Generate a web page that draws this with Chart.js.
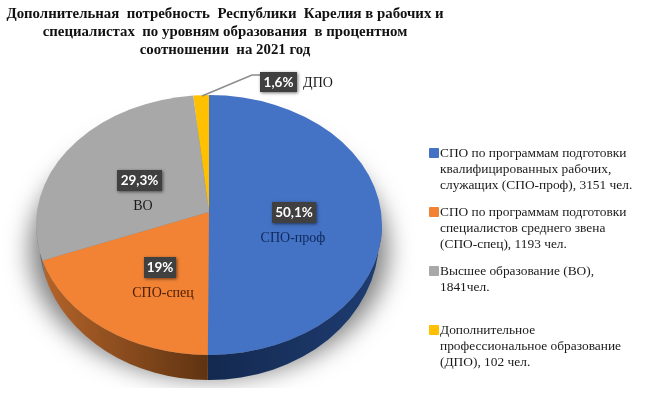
<!DOCTYPE html>
<html lang="ru">
<head>
<meta charset="utf-8">
<title>Дополнительная потребность</title>
<script src="https://cdn.jsdelivr.net/npm/chart.js@4"></script>
<style>
  html, body { margin: 0; background: #fff; }
  #wrap { position: relative; width: 645px; height: 394px; overflow: hidden; }
  #legend div { position: absolute; left: 440px; font: 13.4px/15.8px "Liberation Serif", serif; color: #1a1a1a; white-space: nowrap; }
  #legend i { position: absolute; left: -11px; top: 3px; width: 10px; height: 10px; border-radius: 1px; }
</style>
</head>
<body>
<div id="wrap">
  <canvas id="chart" width="645" height="394"></canvas>
  <div id="legend"></div>
</div>
<script>
const titleLines = [
  'Дополнительная  потребность  Республики  Карелия в рабочих и',
  'специалистах  по уровням образования  в процентном',
  'соотношении  на 2021 год'
];
const categories = ['СПО-проф', 'СПО-спец', 'ВО', 'ДПО'];
const shares = [50.1, 19, 29.3, 1.6];
const shareLabels = ['50,1%', '19%', '29,3%', '1,6%'];
const legendTexts = [
  'СПО по программам подготовки<br>квалифицированных рабочих,<br>служащих (СПО-проф), 3151 чел.',
  'СПО по программам подготовки<br>специалистов среднего звена<br>(СПО-спец), 1193 чел.',
  'Высшее образование (ВО),<br>1841чел.',
  'Дополнительное<br>профессиональное образование<br>(ДПО), 102 чел.'
];

const colors = ['#4472C4', '#F28335', '#A8A8A8', '#FFC000'];
const nameColors = ['#0f2a5c', '#4a1c04', '#1a1a1a', '#1a1a1a'];
const legendTops = [145, 204, 263, 322];
// стенка: цвет слева и справа
const wallColors = [['#13294f', '#1f3d73'], ['#b4642a', '#5f3311'], ['#7d7d7d', '#6a6a6a'], ['#b08600', '#b08600']];

// геометрия псевдо-3D круга
const pie = { cx: 209, cy: 225, rx: 173, ry: 130, wallRx: 170, wallCy: 239, wallRy: 141, tilt: -0.1 };
// плашка с процентом и подпись-название
const boxes = [
  { x: 272, y: 202, w: 44, h: 21, nameX: 293, nameY: 238 },
  { x: 144, y: 257, w: 32, h: 21, nameX: 163, nameY: 293 },
  { x: 117, y: 170, w: 45, h: 21, nameX: 143, nameY: 206 },
  { x: 260, y: 72, w: 37, h: 20, nameX: 318, nameY: 83 }
];
const leader = [[202, 96], [252, 75], [260, 75]];

// угол дуги -> параметр эллипса с учётом перспективы (центр смещён вверх)
function warp(angle) {
  const u = Math.cos(angle), v = Math.sin(angle), c = pie.tilt;
  const d = 1 + c * v;
  return Math.atan2((v + c) / d, u * Math.sqrt(1 - c * c) / d);
}

const pie3d = {
  id: 'pie3d',
  beforeDatasetDraw(chart) {
    const ctx = chart.ctx;
    const arcs = chart.getDatasetMeta(0).data;
    const { cx, cy, rx, ry, wallRx, wallCy, wallRy } = pie;

    // тень под кругом: сам эллипс за холстом, видна только тень
    ctx.save();
    ctx.beginPath();
    ctx.rect(0, 0, 645, 388);
    ctx.clip();
    ctx.shadowColor = 'rgba(0,0,0,0.5)';
    ctx.shadowBlur = 24;
    ctx.shadowOffsetX = 1000;
    ctx.fillStyle = '#000';
    ctx.beginPath();
    ctx.ellipse(cx - 1000, 250, rx + 6, 128, 0, 0, Math.PI * 2);
    ctx.fill();
    ctx.restore();

    // боковая стенка, только нижняя половина
    arcs.forEach((arc, i) => {
      let a = warp(arc.startAngle), b = warp(arc.endAngle);
      if (b < a) b += Math.PI * 2;
      const from = Math.max(a, 0), to = Math.min(b, Math.PI);
      if (to <= from) return;
      const grad = ctx.createLinearGradient(cx + Math.cos(to) * rx, 0, cx + Math.cos(from) * rx, 0);
      grad.addColorStop(0, wallColors[i][0]);
      grad.addColorStop(1, wallColors[i][1]);
      ctx.fillStyle = grad;
      ctx.beginPath();
      ctx.ellipse(cx, cy, rx, ry, 0, from, to);
      ctx.ellipse(cx, wallCy, wallRx, wallRy, 0, to, from, true);
      ctx.closePath();
      ctx.fill();
    });

    // верхняя грань
    arcs.forEach((arc, i) => {
      ctx.fillStyle = arc.options.backgroundColor;
      ctx.beginPath();
      ctx.moveTo(cx, cy + pie.tilt * ry);
      ctx.ellipse(cx, cy, rx, ry, 0, warp(arc.startAngle), warp(arc.endAngle));
      ctx.closePath();
      ctx.fill();
    });
    return false;
  },
  afterDatasetsDraw(chart) {
    const ctx = chart.ctx;
    ctx.save();
    ctx.strokeStyle = '#8c8c8c';
    ctx.lineWidth = 1.5;
    ctx.beginPath();
    leader.forEach((p, i) => i ? ctx.lineTo(p[0], p[1]) : ctx.moveTo(p[0], p[1]));
    ctx.stroke();

    ctx.textAlign = 'center';
    ctx.textBaseline = 'middle';
    boxes.forEach((b, i) => {
      ctx.save();
      ctx.shadowColor = 'rgba(0,0,0,0.55)';
      ctx.shadowBlur = 3;
      ctx.shadowOffsetX = 1;
      ctx.shadowOffsetY = 1;
      ctx.fillStyle = '#404040';
      ctx.fillRect(b.x, b.y, b.w, b.h);
      ctx.restore();
      ctx.fillStyle = '#fff';
      ctx.font = 'bold 13.5px Lato, sans-serif';
      ctx.fillText(shareLabels[i], b.x + b.w / 2, b.y + b.h / 2 + 0.5);
      ctx.fillStyle = nameColors[i];
      ctx.font = '14px "Liberation Serif", serif';
      ctx.fillText(categories[i], b.nameX, b.nameY);
    });
    ctx.restore();
  }
};

new Chart(document.getElementById('chart'), {
  type: 'pie',
  data: {
    labels: categories,
    datasets: [{ data: shares, backgroundColor: colors, borderWidth: 0 }]
  },
  options: {
    responsive: false,
    animation: false,
    layout: { padding: { right: 195 } },
    plugins: {
      legend: { display: false },
      tooltip: { enabled: false },
      title: {
        display: true,
        text: titleLines,
        fullSize: false,
        color: '#111',
        font: { family: '"Liberation Serif", serif', size: 14.85, weight: 'bold', lineHeight: 1.22 },
        padding: { top: 5, bottom: 0 }
      }
    }
  },
  plugins: [pie3d]
});

const legendEl = document.getElementById('legend');
legendTexts.forEach((t, i) => {
  const row = document.createElement('div');
  row.style.top = legendTops[i] + 'px';
  row.innerHTML = `<i style="background:${colors[i]}"></i>${t}`;
  legendEl.appendChild(row);
});
</script>
</body>
</html>
